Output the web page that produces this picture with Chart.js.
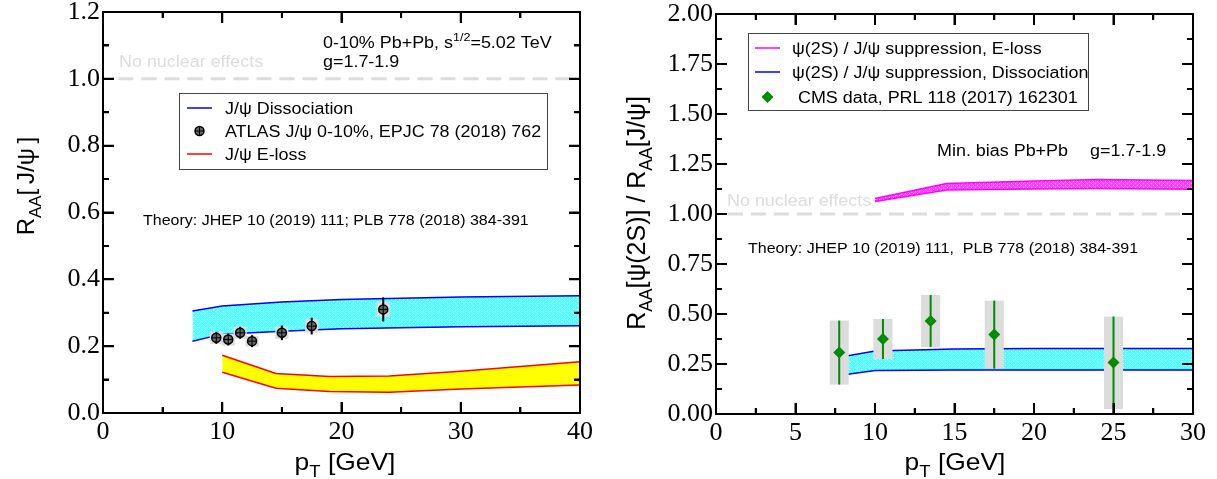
<!DOCTYPE html>
<html>
<head>
<meta charset="utf-8">
<script src="https://cdn.jsdelivr.net/npm/chart.js@4"></script>
<style>
body { margin: 0; background: #fff; width: 1217px; height: 479px; overflow: hidden; position: relative; }
canvas { position: absolute; top: 0; }
#left, #leftFrame { left: 0; }
#right, #rightFrame { left: 600px; }
.frame { position: absolute; top: 0; width: 617px; height: 479px; z-index: 3; pointer-events: none; }
</style>
</head>
<body>
<canvas id="left" width="600" height="479"></canvas>
<canvas id="right" width="617" height="479"></canvas>
<div id="leftFrame" class="frame"></div>
<div id="rightFrame" class="frame"></div>
<script>
// ---- left panel: J/psi R_AA, 0-10% Pb+Pb ----
const jpsiDissX = [7.5, 10, 15, 20, 30, 40]
const jpsiDissHi = [0.305, 0.32, 0.332, 0.34, 0.347, 0.351]
const jpsiDissLo = [0.215, 0.236, 0.245, 0.252, 0.258, 0.261]

const jpsiElossX = [10, 14.5, 19, 24, 30, 40]
const jpsiElossHi = [0.173, 0.118, 0.109, 0.111, 0.125, 0.153]
const jpsiElossLo = [0.122, 0.074, 0.064, 0.062, 0.072, 0.084]

const atlasPt = [9.5, 10.5, 11.5, 12.5, 15, 17.5, 23.5]
const atlasRaa = [0.225, 0.22, 0.24, 0.215, 0.24, 0.26, 0.31]
const atlasStat = [0.018, 0.018, 0.018, 0.018, 0.022, 0.025, 0.036]
const atlasSyst = [0.018, 0.018, 0.018, 0.016, 0.018, 0.02, 0.022]

const leftXTicks = {min: 0, max: 40, major: 10, minor: 5}
const leftYTicks = {min: 0, max: 1.2, major: 0.2, minor: 0.1}
const leftRefX = [1.3, 40]

// ---- right panel: psi(2S) / J/psi double ratio, min. bias ----
const ratioElossX = [10, 14.5, 20, 24, 30]
const ratioElossHi = [1.078, 1.153, 1.165, 1.173, 1.167]
const ratioElossLo = [1.062, 1.12, 1.125, 1.128, 1.124]

const ratioDissX = [7.5, 10, 15, 20, 30]
const ratioDissHi = [0.28, 0.315, 0.325, 0.328, 0.328]
const ratioDissLo = [0.19, 0.218, 0.22, 0.22, 0.22]

const cmsPt = [7.75, 10.5, 13.5, 17.5, 25]
const cmsRatio = [0.307, 0.375, 0.465, 0.397, 0.257]
const cmsStatUp = [0.16, 0.10, 0.13, 0.17, 0.23]
const cmsStatDn = [0.16, 0.10, 0.13, 0.17, 0.26]
const cmsSystUp = [0.16, 0.10, 0.13, 0.17, 0.23]
const cmsSystDn = [0.16, 0.10, 0.13, 0.17, 0.232]

const rightXTicks = {min: 0, max: 30, major: 5, minor: 2.5}
const rightYTicks = {min: 0, max: 2, major: 0.25, minor: 0.125}
const rightRefX = [0.75, 29.3]

const SANS = '"Liberation Sans", Arial, Helvetica, sans-serif'
const SERIF = '"Liberation Serif", "Times New Roman", serif'
const STRETCH = 1.12 // the original lettering is a bit wider than Liberation Sans

const dotPattern = (base, dot) => {
    const c = document.createElement('canvas')
    c.width = 4
    c.height = 4
    const g = c.getContext('2d')
    g.fillStyle = base
    g.fillRect(0, 0, 4, 4)
    g.fillStyle = dot
    g.fillRect(1, 1, 1, 1)
    g.fillRect(3, 3, 1, 1)
    return g.createPattern(c, 'repeat')
}

const pts = (xs, ys) => xs.map((x, i) => ({x, y: ys[i]}))

const bandPair = (label, xs, hi, lo, colour, fillStyle, order) => [
    {label, data: pts(xs, hi), borderColor: colour, borderWidth: 1.5, pointRadius: 0,
     showLine: true, fill: false, order},
    {label: label + ' (low)', data: pts(xs, lo), borderColor: colour, borderWidth: 1.5, pointRadius: 0,
     showLine: true, fill: '-1', backgroundColor: fillStyle, order}
]

const refLine = (xs) => ({
    label: 'No nuclear effects', data: pts(xs, xs.map(() => 1)), borderColor: '#dcdcdc',
    borderWidth: 3, borderDash: [15, 8], pointRadius: 0, showLine: true, fill: false, order: 10
})

// text with sub/superscripts: parts = [{t, sub, sup}]
const richWidth = (ctx, parts, size) => parts.reduce((w, p) => {
    ctx.font = `${p.sub || p.sup ? size * 0.7 : size}px ${SANS}`
    return w + ctx.measureText(p.t).width
}, 0)

const drawRich = (ctx, parts, x, y, size, colour = '#000', align = 'left', sx = STRETCH) => {
    ctx.save()
    ctx.translate(x, y)
    ctx.scale(sx, 1)
    ctx.fillStyle = colour
    ctx.textBaseline = 'alphabetic'
    ctx.textAlign = 'left'
    let cx = align === 'center' ? -richWidth(ctx, parts, size) / 2 : 0
    parts.forEach(p => {
        const s = p.sub || p.sup ? size * 0.7 : size
        ctx.font = `${s}px ${SANS}`
        const dy = p.sub ? size * 0.28 : p.sup ? -size * 0.42 : 0
        ctx.fillText(p.t, cx, dy)
        cx += ctx.measureText(p.t).width
    })
    ctx.restore()
}

const onStep = (v, step) => Math.abs(v / step - Math.round(v / step)) < 1e-6

// walk the inward major/minor tick positions of both scales
const eachTick = (chart, xt, yt, fn) => {
    const sx = chart.scales.x
    const sy = chart.scales.y
    for (let v = xt.min; v <= xt.max + 1e-9; v += xt.minor) {
        fn('x', sx.getPixelForValue(v), onStep(v, xt.major) ? 11 : 6)
    }
    for (let v = yt.min; v <= yt.max + 1e-9; v += yt.minor) {
        fn('y', sy.getPixelForValue(v), onStep(v, yt.major) ? 11 : 6)
    }
}

// box and ticks on the chart canvas
const drawFrame = (chart, xt, yt) => {
    const ctx = chart.ctx
    const a = chart.chartArea
    ctx.save()
    ctx.strokeStyle = '#000'
    ctx.lineWidth = 2
    eachTick(chart, xt, yt, (axis, p, len) => {
        ctx.beginPath()
        if (axis === 'x') {
            ctx.moveTo(p, a.bottom)
            ctx.lineTo(p, a.bottom - len)
            ctx.moveTo(p, a.top)
            ctx.lineTo(p, a.top + len)
        } else {
            ctx.moveTo(a.left, p)
            ctx.lineTo(a.left + len, p)
            ctx.moveTo(a.right, p)
            ctx.lineTo(a.right - len, p)
        }
        ctx.stroke()
    })
    ctx.strokeRect(a.left, a.top, a.right - a.left, a.bottom - a.top)
    ctx.restore()
}

// the same box and ticks as thin blocks in a layer above the canvas
const frameLayer = (chart, holder, xt, yt) => {
    const a = chart.chartArea
    holder.innerHTML = ''
    const block = (l, t, w, h) => {
        const d = document.createElement('div')
        d.style.cssText = `position:absolute;left:${l}px;top:${t}px;width:${w}px;height:${h}px;background:#000`
        holder.appendChild(d)
    }
    block(a.left - 1, a.top - 1, a.right - a.left + 2, 2)
    block(a.left - 1, a.bottom - 1, a.right - a.left + 2, 2)
    block(a.left - 1, a.top - 1, 2, a.bottom - a.top + 2)
    block(a.right - 1, a.top - 1, 2, a.bottom - a.top + 2)
    eachTick(chart, xt, yt, (axis, p, len) => {
        if (axis === 'x') {
            block(p - 1, a.bottom - len, 2, len)
            block(p - 1, a.top, 2, len)
        } else {
            block(a.left, p - 1, len, 2)
            block(a.right - len, p - 1, len, 2)
        }
    })
}

const errorPlugin = (dsIndex, xs, ys, statUp, statDn, systUp, systDn, halfW, colour) => ({
    id: 'errorBars',
    beforeDatasetDraw(chart, args) {
        if (args.index !== dsIndex) return
        const {ctx, chartArea: a, scales: {x, y}} = chart
        ctx.save()
        ctx.beginPath()
        ctx.rect(a.left, a.top, a.right - a.left, a.bottom - a.top)
        ctx.clip()
        ctx.fillStyle = '#dcdcdc'
        xs.forEach((v, i) => {
            const l = x.getPixelForValue(v - halfW)
            const r = x.getPixelForValue(v + halfW)
            const t = y.getPixelForValue(ys[i] + systUp[i])
            const b = y.getPixelForValue(ys[i] - systDn[i])
            ctx.fillRect(l, t, r - l, b - t)
        })
        ctx.strokeStyle = colour
        ctx.lineWidth = 2
        xs.forEach((v, i) => {
            const px = x.getPixelForValue(v)
            ctx.beginPath()
            ctx.moveTo(px, y.getPixelForValue(ys[i] + statUp[i]))
            ctx.lineTo(px, y.getPixelForValue(ys[i] - statDn[i]))
            ctx.stroke()
        })
        ctx.restore()
    }
})

// the ATLAS marker is a circle with a "+" inside
const crossPlugin = (dsIndex) => ({
    id: 'cross',
    afterDatasetDraw(chart, args) {
        if (args.index !== dsIndex) return
        const ctx = chart.ctx
        ctx.save()
        ctx.strokeStyle = '#000'
        ctx.lineWidth = 1
        chart.getDatasetMeta(dsIndex).data.forEach(p => {
            ctx.beginPath()
            ctx.moveTo(p.x - 4.5, p.y)
            ctx.lineTo(p.x + 4.5, p.y)
            ctx.moveTo(p.x, p.y - 4.5)
            ctx.lineTo(p.x, p.y + 4.5)
            ctx.stroke()
        })
        ctx.restore()
    }
})

const drawMarker = (ctx, type, x, y) => {
    ctx.save()
    if (type === 'circle') {
        ctx.fillStyle = '#666'
        ctx.strokeStyle = '#000'
        ctx.lineWidth = 1.5
        ctx.beginPath()
        ctx.arc(x, y, 4.5, 0, Math.PI * 2)
        ctx.fill()
        ctx.stroke()
        ctx.lineWidth = 1
        ctx.beginPath()
        ctx.moveTo(x - 4.5, y)
        ctx.lineTo(x + 4.5, y)
        ctx.moveTo(x, y - 4.5)
        ctx.lineTo(x, y + 4.5)
        ctx.stroke()
    } else {
        ctx.fillStyle = '#008b00'
        ctx.beginPath()
        ctx.moveTo(x, y - 6)
        ctx.lineTo(x + 6, y)
        ctx.lineTo(x, y + 6)
        ctx.lineTo(x - 6, y)
        ctx.closePath()
        ctx.fill()
    }
    ctx.restore()
}

const decorPlugin = (cfg) => ({
    id: 'decor',
    afterDraw(chart) {
        const ctx = chart.ctx
        // legend box
        const lg = cfg.legend
        ctx.save()
        ctx.fillStyle = '#fff'
        ctx.fillRect(lg.box[0], lg.box[1], lg.box[2], lg.box[3])
        ctx.strokeStyle = '#444'
        ctx.lineWidth = 1
        ctx.strokeRect(lg.box[0] + 0.5, lg.box[1] + 0.5, lg.box[2], lg.box[3])
        lg.items.forEach(it => {
            if (it.type === 'line') {
                ctx.strokeStyle = it.colour
                ctx.lineWidth = 1.5
                ctx.beginPath()
                ctx.moveTo(lg.sampleX[0], it.y)
                ctx.lineTo(lg.sampleX[1], it.y)
                ctx.stroke()
            } else {
                drawMarker(ctx, it.type, (lg.sampleX[0] + lg.sampleX[1]) / 2, it.y)
            }
            drawRich(ctx, [{t: it.label}], it.textX || lg.textX, it.y + 6, 16)
        })
        ctx.restore()
        cfg.texts.forEach(t => drawRich(ctx, t.parts, t.x, t.y, t.size, t.colour))
        // axis titles
        drawRich(ctx, cfg.xTitle, cfg.xTitleX, 470, 24, '#000', 'center', 1.1)
        ctx.save()
        ctx.translate(cfg.yTitleX, cfg.yTitleY)
        ctx.rotate(-Math.PI / 2)
        drawRich(ctx, cfg.yTitle, 0, 9, cfg.yTitleSize, '#000', 'center', 1)
        ctx.restore()
        drawFrame(chart, cfg.xt, cfg.yt)
        frameLayer(chart, document.getElementById(cfg.frameId), cfg.xt, cfg.yt)
    }
})

const makeChart = (canvas, opts) => new Chart(canvas, {
    type: 'scatter',
    data: {datasets: opts.datasets},
    options: {
        responsive: false,
        animation: false,
        devicePixelRatio: 1,
        layout: {padding: opts.padding},
        plugins: {legend: {display: false}, tooltip: {enabled: false}},
        scales: {
            x: {
                type: 'linear', min: opts.xt.min, max: opts.xt.max,
                grid: {display: false, drawTicks: false}, border: {display: false},
                ticks: {stepSize: opts.xt.major, padding: 4, color: '#000',
                        font: {family: SERIF, size: 26}, maxRotation: 0},
                afterFit: s => { s.height = opts.xHeight; s.paddingLeft = 0; s.paddingRight = 0 }
            },
            y: {
                type: 'linear', min: opts.yt.min, max: opts.yt.max,
                grid: {display: false, drawTicks: false}, border: {display: false},
                ticks: {stepSize: opts.yt.major, padding: 3, color: '#000',
                        font: {family: SERIF, size: 26},
                        callback: v => v.toFixed(opts.yDigits)},
                afterFit: s => { s.width = opts.yWidth; s.paddingTop = 0; s.paddingBottom = 0 }
            }
        }
    },
    plugins: opts.plugins
})

// ---- left chart ----
const cyanFill = dotPattern('#55ffff', '#d0ffff')
const leftSets = [
    {label: 'ATLAS J/ψ 0-10%, EPJC 78 (2018) 762', data: pts(atlasPt, atlasRaa), pointStyle: 'circle',
     pointRadius: 4.5, backgroundColor: '#666', borderColor: '#000', pointBorderWidth: 1.5, showLine: false, order: 0},
    ...bandPair('J/ψ Dissociation', jpsiDissX, jpsiDissHi, jpsiDissLo, '#0000ff', cyanFill, 3),
    ...bandPair('J/ψ E-loss', jpsiElossX, jpsiElossHi, jpsiElossLo, '#ff0000', '#ffff00', 4),
    refLine(leftRefX)
]

makeChart(document.getElementById('left'), {
    datasets: leftSets, xt: leftXTicks, yt: leftYTicks, yDigits: 1,
    padding: {top: 12, right: 20, left: 0, bottom: 0}, xHeight: 66, yWidth: 103,
    plugins: [
        errorPlugin(0, atlasPt, atlasRaa, atlasStat, atlasStat, atlasSyst, atlasSyst, 0.55, '#000'),
        crossPlugin(0),
        decorPlugin({
            xt: leftXTicks, yt: leftYTicks, frameId: 'leftFrame',
            legend: {
                box: [179, 93, 368, 76], sampleX: [187, 212], textX: 225,
                items: [
                    {type: 'line', colour: '#0000ff', label: leftSets[1].label, y: 108},
                    {type: 'circle', label: leftSets[0].label, y: 131},
                    {type: 'line', colour: '#ff0000', label: leftSets[3].label, y: 154}
                ]
            },
            texts: [
                {parts: [{t: '0-10% Pb+Pb, s'}, {t: '1/2', sup: true}, {t: '=5.02 TeV'}], x: 323, y: 48, size: 16},
                {parts: [{t: 'g=1.7-1.9'}], x: 323, y: 67, size: 16},
                {parts: [{t: 'No nuclear effects'}], x: 119, y: 67, size: 16, colour: '#dcdcdc'},
                {parts: [{t: 'Theory: JHEP 10 (2019) 111; PLB 778 (2018) 384-391'}], x: 143, y: 225, size: 14.3}
            ],
            xTitle: [{t: 'p'}, {t: 'T', sub: true}, {t: ' [GeV]'}], xTitleX: 345,
            yTitle: [{t: 'R'}, {t: 'AA', sub: true}, {t: '[\u2009J/ψ\u2009]'}], yTitleX: 25, yTitleY: 186, yTitleSize: 24
        })
    ]
})

// ---- right chart ----
const pinkFill = dotPattern('#ff44ff', '#ffc8ff')
const rightSets = [
    {label: 'CMS data, PRL 118 (2017) 162301', data: pts(cmsPt, cmsRatio), pointStyle: 'rectRot',
     pointRadius: 6, backgroundColor: '#008b00', borderColor: '#008b00', pointBorderWidth: 0, showLine: false, order: 0},
    ...bandPair('ψ(2S) / J/ψ suppression, E-loss', ratioElossX, ratioElossHi, ratioElossLo, '#ff00ff', pinkFill, 3),
    ...bandPair('ψ(2S) / J/ψ suppression, Dissociation', ratioDissX, ratioDissHi, ratioDissLo, '#0000ff', cyanFill, 4),
    refLine(rightRefX)
]

makeChart(document.getElementById('right'), {
    datasets: rightSets, xt: rightXTicks, yt: rightYTicks, yDigits: 2,
    padding: {top: 14, right: 24, left: 0, bottom: 0}, xHeight: 65, yWidth: 116,
    plugins: [
        errorPlugin(0, cmsPt, cmsRatio, cmsStatUp, cmsStatDn, cmsSystUp, cmsSystDn, 0.6, '#008b00'),
        decorPlugin({
            xt: rightXTicks, yt: rightYTicks, frameId: 'rightFrame',
            legend: {
                box: [148, 33, 340, 77], sampleX: [155, 180], textX: 192,
                items: [
                    {type: 'line', colour: '#ff00ff', label: rightSets[1].label, y: 48},
                    {type: 'line', colour: '#0000ff', label: rightSets[3].label, y: 72},
                    {type: 'diamond', label: rightSets[0].label, y: 97, textX: 198}
                ]
            },
            texts: [
                {parts: [{t: 'Min. bias Pb+Pb'}], x: 337, y: 156, size: 16},
                {parts: [{t: 'g=1.7-1.9'}], x: 490, y: 156, size: 16},
                {parts: [{t: 'No nuclear effects'}], x: 127, y: 206, size: 16, colour: '#dcdcdc'},
                {parts: [{t: 'Theory: JHEP 10 (2019) 111,  PLB 778 (2018) 384-391'}], x: 148, y: 253, size: 14.3}
            ],
            xTitle: [{t: 'p'}, {t: 'T', sub: true}, {t: ' [GeV]'}], xTitleX: 355,
            yTitle: [{t: 'R'}, {t: 'AA', sub: true}, {t: '[ψ(2S)] / R'}, {t: 'AA', sub: true}, {t: '[J/ψ]'}],
            yTitleX: 36, yTitleY: 213, yTitleSize: 25
        })
    ]
})
</script>
</body>
</html>
